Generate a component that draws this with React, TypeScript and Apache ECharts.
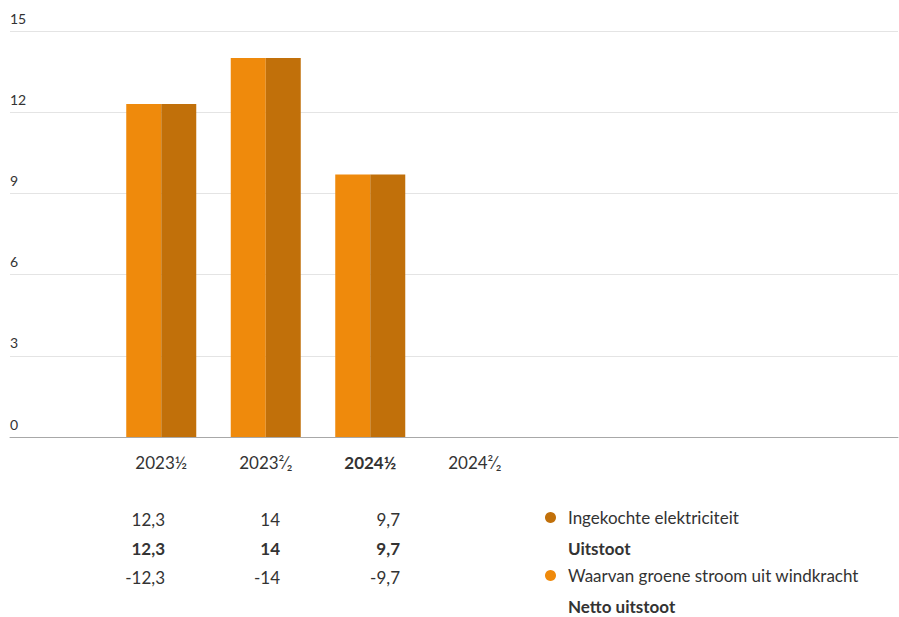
import React, { useEffect, useRef } from "react";
import * as echarts from "echarts";

const categories = ["2023½", "2023²⁄₂", "2024½", "2024²⁄₂"];
const ingekochte: (number | null)[] = [12.3, 14, 9.7, null];
const uitstoot: (number | null)[] = [12.3, 14, 9.7, null];
const groeneStroom: (number | null)[] = [-12.3, -14, -9.7, null];
const yTicks = [0, 3, 6, 9, 12, 15];

const DARK = "#C1700A";
const LIGHT = "#EF8A0C";
const TEXT = "#333333";
const FONT = "Lato, 'Noto Sans', sans-serif";

const fmt = (v: number | null) => (v == null ? "" : String(v).replace(".", ","));

export default function App() {
  const ref = useRef<HTMLDivElement>(null);
  useEffect(() => {
    if (!ref.current) return;
    const chart = echarts.init(ref.current, null, { renderer: "svg" });
    const colRight = [165, 280, 400];
    const rows: { vals: (number | null)[]; y: number; bold: boolean }[] = [
      { vals: ingekochte, y: 519, bold: false },
      { vals: uitstoot, y: 548, bold: true },
      { vals: groeneStroom, y: 577, bold: false },
    ];
    const graphic: any[] = [];
    rows.forEach((r) => {
      r.vals.forEach((v, i) => {
        if (v == null) return;
        graphic.push({
          type: "text",
          x: colRight[i],
          y: r.y,
          style: {
            text: fmt(v),
            fill: TEXT,
            font: `${r.bold ? "bold " : ""}17px ${FONT}`,
            align: "right",
            verticalAlign: "middle",
          },
        });
      });
    });
    graphic.push(
      {
        type: "text",
        x: 568,
        y: 548,
        style: { text: "Uitstoot", fill: TEXT, font: `bold 17px ${FONT}`, verticalAlign: "middle" },
      },
      {
        type: "text",
        x: 568,
        y: 606,
        style: { text: "Netto uitstoot", fill: TEXT, font: `bold 17px ${FONT}`, verticalAlign: "middle" },
      }
    );
    const legendBase = {
      orient: "vertical",
      icon: "circle",
      itemWidth: 11,
      itemHeight: 11,
      itemGap: 0,
      padding: 0,
      left: 545,
      textStyle: { color: TEXT, fontSize: 17, fontFamily: FONT, padding: [0, 0, 0, 7] },
    };
    chart.setOption({
      animation: false,
      grid: [
        { left: 10, right: 1, top: 31, bottom: 180 },
        { left: 109, width: 418, top: 31, bottom: 180 },
      ],
      xAxis: [
        {
          gridIndex: 0,
          type: "value",
          min: 0,
          max: 1,
          show: true,
          axisLine: { show: true, onZero: false, lineStyle: { color: "#a8a8a8", width: 1 } },
          axisTick: { show: false },
          axisLabel: { show: false },
          splitLine: { show: false },
        },
        {
          gridIndex: 1,
          type: "category",
          data: categories,
          axisLine: { show: false },
          axisTick: { show: false },
          axisLabel: {
            margin: 17,
            color: TEXT,
            fontSize: 17,
            fontFamily: FONT,
            formatter: (v: string, i: number) => (i === 2 ? `{b|${v}}` : v),
            rich: { b: { fontWeight: "bold", fontSize: 17, fontFamily: FONT, color: TEXT } },
          },
        },
      ],
      yAxis: [
        {
          gridIndex: 0,
          type: "value",
          min: yTicks[0],
          max: yTicks[yTicks.length - 1],
          interval: 3,
          axisLine: { show: false },
          axisTick: { show: false },
          splitLine: { lineStyle: { color: "#e4e4e4", width: 1 } },
          axisLabel: {
            inside: true,
            margin: 0,
            color: TEXT,
            fontSize: 14,
            fontFamily: FONT,
            verticalAlign: "bottom",
            padding: [0, 0, 6, 0],
          },
        },
        {
          gridIndex: 1,
          type: "value",
          min: yTicks[0],
          max: yTicks[yTicks.length - 1],
          interval: 3,
          show: false,
        },
      ],
      legend: [
        { ...legendBase, top: 509, data: ["Ingekochte elektriciteit"] },
        { ...legendBase, top: 567, data: ["Waarvan groene stroom uit windkracht"] },
      ],
      series: [
        {
          name: "Waarvan groene stroom uit windkracht",
          type: "bar",
          xAxisIndex: 1,
          yAxisIndex: 1,
          data: groeneStroom.map((v) => (v == null ? null : Math.abs(v))),
          itemStyle: { color: LIGHT },
          barGap: "0%",
          barCategoryGap: "33%",
        },
        {
          name: "Ingekochte elektriciteit",
          type: "bar",
          xAxisIndex: 1,
          yAxisIndex: 1,
          data: ingekochte,
          itemStyle: { color: DARK },
          barGap: "0%",
          barCategoryGap: "33%",
        },
      ],
      graphic,
    });
    return () => chart.dispose();
  }, []);
  return <div ref={ref} style={{ width: 899, height: 617, position: "absolute", left: 0, top: 0 }} />;
}
